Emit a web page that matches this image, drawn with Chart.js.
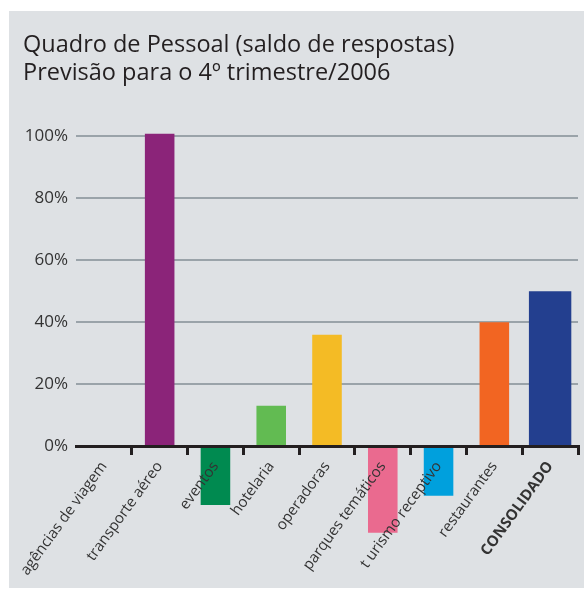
<!DOCTYPE html>
<html>
<head>
<meta charset="utf-8">
<script src="https://cdn.jsdelivr.net/npm/chart.js@4.4.1/dist/chart.umd.min.js"></script>
<style>
  html, body { margin: 0; padding: 0; background: #fff; }
  #bg { position: absolute; left: 9px; top: 11px; width: 575px; height: 577px; background: #dee1e4; }
  #wrap { position: absolute; left: 0; top: 0; width: 584px; height: 590px; }
</style>
</head>
<body>
<div id="bg"></div>
<div id="wrap"><canvas id="quadroChart"></canvas></div>
<script>
// Quadro de Pessoal - saldo de respostas, previsão 4º trimestre/2006
const categories = [
  "agências de viagem", "transporte aéreo", "eventos", "hotelaria", "operadoras",
  "parques temáticos", "t urismo receptivo", "restaurantes", "CONSOLIDADO"
];
const saldo = [0, 101, -19, 13, 36, -28, -16, 40, 50];
const barColors = [
  "#8b2479", "#8b2479", "#008a50", "#62bb52", "#f4bb25",
  "#ea6a8f", "#00a0dd", "#f26522", "#233f8f"
];
const yTicks = [0, 20, 40, 60, 80, 100];

const lastIdx = categories.length - 1;

const ctx = document.getElementById('quadroChart').getContext('2d');
const quadroChart = new Chart(ctx, {
  type: 'bar',
  data: {
    labels: categories,
    datasets: [
      {
        // sectors
        data: saldo.map((v, i) => i === lastIdx ? null : v),
        backgroundColor: barColors,
        grouped: false,
        barPercentage: 0.53,
        categoryPercentage: 1
      },
      {
        // consolidado, wider bar
        data: saldo.map((v, i) => i === lastIdx ? v : null),
        backgroundColor: barColors,
        grouped: false,
        barPercentage: 0.76,
        categoryPercentage: 1
      }
    ]
  },
  options: {
    responsive: true,
    maintainAspectRatio: false,
    animation: false,
    layout: { padding: { left: 23, right: 6, top: 0, bottom: 51 } },
    plugins: {
      legend: { display: false },
      tooltip: { enabled: false },
      title: {
        display: true,
        align: 'start',
        text: ['Quadro de Pessoal (saldo de respostas)', 'Previsão para o 4º trimestre/2006'],
        color: '#231f20',
        font: { family: 'Open Sans', size: 23.5, weight: 'normal', lineHeight: 1.2 },
        padding: { top: 31, bottom: 46 }
      }
    },
    scales: {
      x: {
        position: { y: 0 },
        border: { display: true, color: '#231f20', width: 3, z: 1 },
        grid: {
          offset: true,
          z: 1,
          drawOnChartArea: false,
          drawTicks: true,
          tickLength: 7,
          lineWidth: 3,
          color: c => (c.index === 0 || c.index === categories.length) ? 'rgba(0,0,0,0)' : '#231f20'
        },
        ticks: {
          z: 1,
          autoSkip: false,
          minRotation: 54,
          maxRotation: 54,
          padding: 5,
          color: '#333',
          font: c => ({
            family: 'Open Sans',
            size: 15,
            weight: c.index === lastIdx ? 'bold' : 'normal'
          })
        }
      },
      y: {
        min: -30,
        max: 101,
        afterBuildTicks: axis => { axis.ticks = yTicks.map(v => ({ value: v })); },
        afterFit: axis => { axis.width = 53; },
        border: { display: false },
        grid: {
          drawTicks: false,
          lineWidth: 2,
          color: c => c.tick && c.tick.value === 0 ? 'rgba(0,0,0,0)' : '#9aa3a9'
        },
        ticks: {
          padding: 8,
          color: '#333',
          font: { family: 'Open Sans', size: 17 },
          callback: v => v + '%'
        }
      }
    }
  }
});
</script>
</body>
</html>
